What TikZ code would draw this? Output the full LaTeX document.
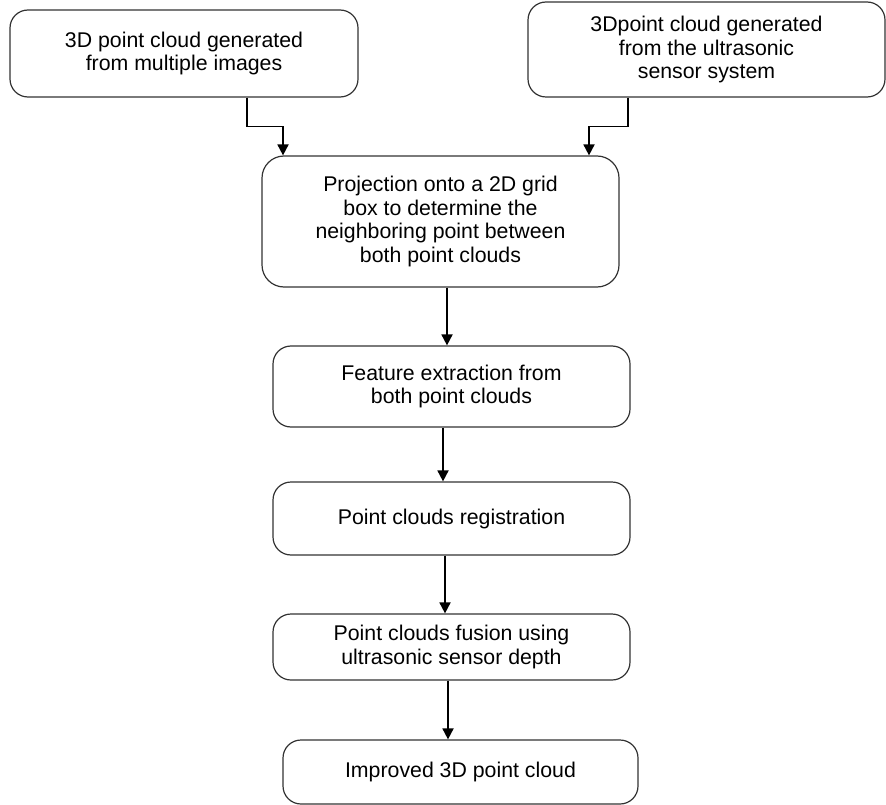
\documentclass[tikz,border=0pt]{standalone}
\usepackage{fontspec}
\setmainfont{Liberation Sans}
\usetikzlibrary{arrows.meta}
\begin{document}
\begin{tikzpicture}[x=1pt,y=-1pt,
  box/.style={draw=black!80, line width=1.2pt, rounded corners=18pt, align=center,
    inner sep=0pt, font=\fontsize{21.3}{23.5}\selectfont, fill=white},
  arr/.style={draw=black, line width=1.8pt, -{Triangle[width=11pt,length=11pt]}}]
\useasboundingbox[fill=white] (0,0) rectangle (886,805);
\node[box, minimum width=348pt, minimum height=87pt] (A) at (184,53.5)
  {3D point cloud generated\\from multiple images};
\node[box, minimum width=357pt, minimum height=95pt] (B) at (706.5,49.5)
  {3Dpoint cloud generated\\from the ultrasonic\\sensor system};
\node[box, minimum width=357pt, minimum height=131pt, rounded corners=22pt] (C) at (440.5,221.5)
  {Projection onto a 2D grid\\box to determine the\\neighboring point between\\both point clouds};
\node[box, minimum width=357pt, minimum height=81pt] (D) at (451.5,386.5)
  {Feature extraction from\\both point clouds};
\node[box, minimum width=357pt, minimum height=73pt] (E) at (451.5,518.5)
  {Point clouds registration};
\node[box, minimum width=357pt, minimum height=66pt] (F) at (451.5,647)
  {Point clouds fusion using\\ultrasonic sensor depth};
\node[box, minimum width=355pt, minimum height=64pt] (G) at (460.5,772)
  {Improved 3D point cloud};
\draw[arr] ([xshift=63pt]A.south) -- ++(0,29) -| ([xshift=-157.5pt]C.north);
\draw[arr] ([xshift=-78.5pt]B.south) -- ++(0,29) -| ([xshift=148.5pt]C.north);
\draw[arr] ([xshift=6.5pt]C.south) -- ([xshift=-4.5pt]D.north);
\draw[arr] ([xshift=-8.5pt]D.south) -- ([xshift=-8.5pt]E.north);
\draw[arr] ([xshift=-6.5pt]E.south) -- ([xshift=-6.5pt]F.north);
\draw[arr] ([xshift=-3.5pt]F.south) -- ([xshift=-12.5pt]G.north);
\end{tikzpicture}
\end{document}
